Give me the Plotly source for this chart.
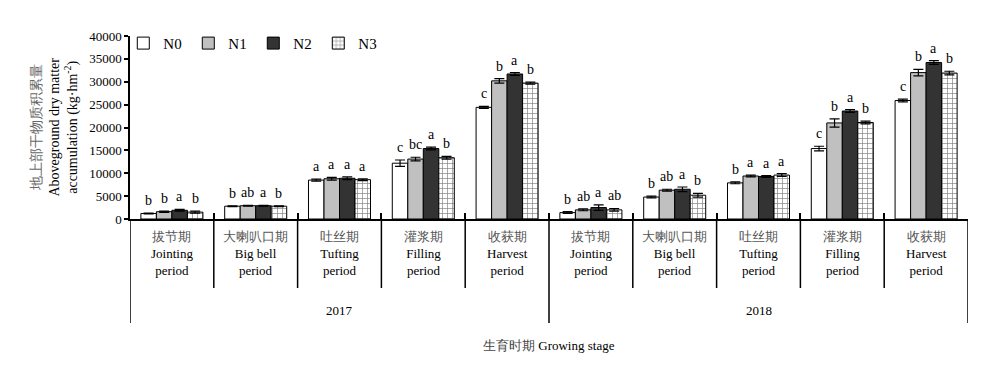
import plotly.graph_objects as go

# ---------------- data ----------------
years = ["2017", "2018"]
stages_cn = ["拔节期", "大喇叭口期", "吐丝期", "灌浆期", "收获期"]
stages_en = ["Jointing", "Big bell", "Tufting", "Filling", "Harvest"]
series = ["N0", "N1", "N2", "N3"]

# values per group: 2017 (5 stages) then 2018 (5 stages)
N0 = [1200, 2800, 8500, 12200, 24400, 1400, 4800, 7900, 15400, 25900]
N1 = [1600, 2900, 8800, 13100, 30200, 2000, 6300, 9400, 21000, 32000]
N2 = [1900, 2900, 8900, 15400, 31700, 2500, 6500, 9300, 23600, 34200]
N3 = [1500, 2800, 8600, 13400, 29700, 2000, 5200, 9600, 21100, 31900]

E0 = [100, 100, 200, 700, 200, 200, 200, 200, 500, 300]
E1 = [150, 100, 300, 400, 500, 200, 200, 200, 900, 700]
E2 = [200, 100, 300, 300, 300, 600, 500, 200, 300, 400]
E3 = [200, 100, 200, 300, 200, 300, 400, 300, 300, 400]

L0 = ["b", "b", "a", "c", "c", "b", "b", "b", "c", "c"]
L1 = ["b", "ab", "a", "bc", "b", "ab", "ab", "a", "b", "b"]
L2 = ["a", "a", "a", "a", "a", "a", "a", "a", "a", "a"]
L3 = ["b", "b", "a", "b", "b", "ab", "b", "a", "b", "b"]

values = [N0, N1, N2, N3]
errors = [E0, E1, E2, E3]
letters = [L0, L1, L2, L3]

# ---------------- style ----------------
SERIF = "Liberation Serif"
fills = ["#ffffff", "#c0c0c0", "#333333", "#ffffff"]
patterns = ["", "", "", "+"]
BARGAP = 0.26

n_groups = len(years) * len(stages_cn)
xs = list(range(n_groups))

fig = go.Figure()
for j, name in enumerate(series):
    fig.add_trace(go.Bar(
        name=name, x=xs, y=values[j],
        marker=dict(color=fills[j], line=dict(color="black", width=1),
                    pattern=dict(shape=patterns[j], fgcolor="black", bgcolor="white",
                                 size=5, solidity=0.25) if patterns[j] else None),
        error_y=dict(type="data", array=errors[j], color="black", thickness=1.2, width=5),
    ))

# significance letters
bw = (1 - BARGAP) / len(series)
for j in range(len(series)):
    for i in xs:
        fig.add_annotation(
            x=i + (j - (len(series) - 1) / 2) * bw, y=values[j][i] + errors[j][i],
            xref="x", yref="y", text=letters[j][i], showarrow=False,
            yanchor="bottom", yshift=3, font=dict(family=SERIF, size=14, color="black"))

# plot geometry (page pixels) for the axis decorations
PLOT_TOP, PLOT_BOT = 36, 219
PH = PLOT_BOT - PLOT_TOP
def py(pix):
    return -(pix - PLOT_BOT) / PH

# stage labels
for yi, yr in enumerate(years):
    for si in range(len(stages_cn)):
        g = yi * len(stages_cn) + si
        fig.add_annotation(
            x=g, y=py(227), xref="x", yref="paper", yanchor="top", showarrow=False,
            text=f"<span style='color:#555'>{stages_cn[si]}</span><br>{stages_en[si]}<br>period",
            font=dict(family=SERIF, size=13, color="black"))
    fig.add_annotation(
        x=yi * len(stages_cn) + (len(stages_cn) - 1) / 2, y=py(310), xref="x", yref="paper",
        yanchor="middle", showarrow=False, text=yr,
        font=dict(family=SERIF, size=13, color="black"))

# dividers
for b in range(n_groups + 1):
    pos = b - 0.5
    long = (b % len(stages_cn) == 0)
    fig.add_shape(type="line", xref="x", yref="paper", x0=pos, x1=pos,
                  y0=0, y1=py(323) if long else py(288),
                  line=dict(color="black", width=1.5))

# x title
fig.add_annotation(x=0.5, y=py(345), xref="paper", yref="paper", showarrow=False,
                   yanchor="middle",
                   text="<span style='color:#444'>生育时期</span> Growing stage",
                   font=dict(family=SERIF, size=13, color="black"))

# y title
fig.add_annotation(x=-76 / 838, y=0.5, xref="paper", yref="paper", showarrow=False,
                   textangle=-90, xanchor="center", yanchor="middle",
                   text="<span style='color:#666'>地上部干物质积累量</span><br>Aboveground dry matter<br>accumulation (kg·hm<sup>-2</sup>)",
                   font=dict(family=SERIF, size=14, color="black"))

# page body has an 8px margin: shrink the figure so the plot lands on the same pixels
fig.update_layout(
    width=992, height=358,
    margin=dict(l=122, r=32, t=PLOT_TOP - 8, b=358 - (PLOT_TOP - 8) - PH),
    paper_bgcolor="white", plot_bgcolor="white",
    barmode="group", bargap=BARGAP, bargroupgap=0,
    font=dict(family=SERIF, size=13, color="black"),
    showlegend=True,
    legend=dict(orientation="h", x=-0.008, y=1.05, xanchor="left", yanchor="top",
                bgcolor="rgba(0,0,0,0)", font=dict(family=SERIF, size=15),
                entrywidth=20, entrywidthmode="pixels", itemwidth=30,
                traceorder="normal"),
    xaxis=dict(range=[-0.5, n_groups - 0.5], showgrid=False, zeroline=False,
               showline=True, linecolor="black", linewidth=1.5,
               tickmode="array", tickvals=[b - 0.5 for b in range(n_groups + 1)],
               ticks="inside", ticklen=6, tickcolor="black", tickwidth=1.5,
               showticklabels=False),
    yaxis=dict(range=[0, 40000], dtick=5000, tickformat="d", showgrid=False, zeroline=False,
               showline=True, linecolor="black", linewidth=1.5,
               ticks="outside", ticklen=4, tickcolor="black", tickwidth=1.5,
               tickfont=dict(family=SERIF, size=13)),
)

fig.write_html("out.html")
